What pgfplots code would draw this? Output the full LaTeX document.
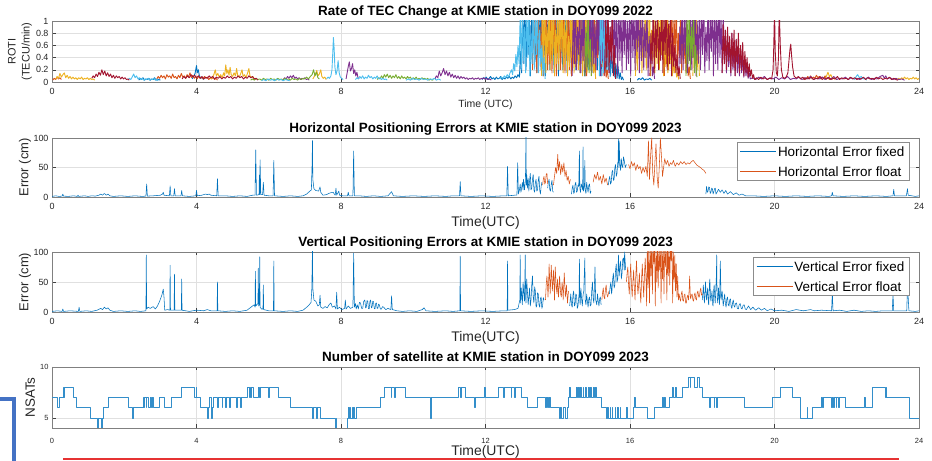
\documentclass[border=0pt]{standalone}
\usepackage{fontspec}
\setmainfont{Liberation Sans}
\usepackage{pgfplots}
\pgfplotsset{compat=1.18}
\definecolor{mblue}{rgb}{0,0.447,0.741}
\definecolor{morange}{rgb}{0.85,0.325,0.098}
\definecolor{myellow}{rgb}{0.929,0.694,0.125}
\definecolor{mpurple}{rgb}{0.494,0.184,0.556}
\definecolor{mgreen}{rgb}{0.466,0.674,0.188}
\definecolor{mcyan}{rgb}{0.301,0.745,0.933}
\definecolor{mred}{rgb}{0.635,0.078,0.184}
\definecolor{txt}{rgb}{0.15,0.15,0.15}
\definecolor{bracket}{RGB}{68,114,196}
\definecolor{redline}{RGB}{230,50,50}
\newcommand{\fs}[1]{\fontsize{#1}{#1}\selectfont}
\pgfplotsset{
  panel/.style={
    scale only axis, width=867bp,
    xmin=0, xmax=24, xtick={0,4,8,12,16,20,24},
    tick align=inside, tick pos=both,
    major tick length=3.5bp,
    grid=major,
    grid style={black!12, line width=0.4bp},
    axis line style={black!50, line width=0.5bp},
    tick style={black!75, line width=0.5bp},
    unbounded coords=jump,
    /pgf/number format/assume math mode=true,
    ticklabel style={text=txt},
    every axis title/.style={at={(0.5,1)}, anchor=base, yshift=5bp, font=\bfseries\fs{13.5}},
    xlabel style={at={(axis description cs:0.5,0)}, anchor=center, yshift=-26bp, font=\fs{14}, text=txt},
    ylabel style={at={(axis description cs:-0.031,0.5)}, anchor=center, font=\fs{13}, text=txt},
    xticklabel style={font=\fs{9}, yshift=-3bp},
    yticklabel style={font=\fs{9}},
    every axis plot/.append style={line width=0.55bp, line join=round},
    legend cell align=left,
    legend style={draw=black!45, fill=white, font=\fs{13.5}, text=black,
      inner sep=3bp, row sep=7bp, nodes={inner sep=1.5bp, text depth=0pt},
      anchor=north east},
    legend image code/.code={\draw[#1] (0bp,0bp) -- (36bp,0bp);},
  },
}
\begin{document}
\begin{tikzpicture}[x=1bp,y=1bp]
\path[use as bounding box] (0,0) rectangle (932,461);

%================ Panel 1: ROTI =================
\begin{axis}[panel, at={(52bp,379bp)}, anchor=south west, height=61bp,
  ymin=0, ymax=1, ytick={0,0.2,0.4,0.6,0.8,1}, yticklabels={0,0.2,0.4,0.6,0.8,1},
  title={Rate of TEC Change at KMIE station in DOY099 2022},
  xlabel={Time (UTC)}, xlabel style={font=\fs{10.5}, yshift=3bp},
  ylabel={ROTI\\(TECU/min)}, ylabel style={align=center, font=\fontsize{11}{14}\selectfont, at={(axis description cs:-0.037,0.5)}},
  every axis plot/.append style={line width=0.9bp}]
% blue
\addplot[mblue] table[row sep=\\]{
2.40 0.03\\ 2.44 0.06\\ 2.48 0.04\\ 2.52 0.07\\ 2.56 0.03\\ 2.60 0.05\\ 2.64 0.04\\ 2.68 0.06\\ 2.72 0.03\\ 2.76 0.05\\ 2.80 0.04\\ 2.84 0.07\\ 2.88 0.03\\ 2.92 0.05\\ 2.96 0.04\\ 3.00 0.03\\ 3.02 nan\\
3.88 0.05\\ 3.92 0.09\\ 3.96 0.14\\ 4.00 0.27\\ 4.02 0.15\\ 4.05 0.20\\ 4.08 0.10\\ 4.12 0.06\\ 4.16 0.08\\ 4.20 0.04\\ 4.22 nan\\
11.90 0.04\\ 11.94 0.07\\ 11.98 0.05\\ 12.02 0.08\\ 12.06 0.04\\ 12.10 0.06\\ 12.14 0.09\\ 12.18 0.05\\ 12.22 0.07\\ 12.26 0.04\\ 12.30 0.08\\ 12.34 0.05\\ 12.38 0.06\\ 12.42 0.09\\ 12.46 0.04\\ 12.50 0.07\\ 12.54 0.05\\ 12.58 0.08\\ 12.62 0.06\\ 12.66 0.09\\ 12.70 0.05\\ 12.74 0.08\\ 12.78 0.06\\ 12.82 0.10\\ 12.86 0.07\\ 12.90 0.12\\ 12.94 0.08\\
12.97 0.50\\ 13.00 0.15\\ 13.03 1.20\\ 13.06 0.30\\ 13.09 1.40\\ 13.12 0.20\\ 13.15 0.90\\ 13.18 0.45\\ 13.21 1.30\\ 13.24 0.10\\ 13.27 1.10\\ 13.30 0.35\\ 13.33 1.40\\ 13.36 0.25\\ 13.39 0.80\\ 13.42 0.15\\ 13.45 1.30\\ 13.48 0.40\\ 13.51 1.20\\ 13.54 0.20\\ 13.57 1.40\\ 13.60 0.30\\ 13.63 0.95\\ 13.66 0.10\\ 13.69 1.30\\ 13.72 0.50\\ 13.75 1.10\\ 13.78 0.20\\ 13.81 1.40\\ 13.84 0.35\\ 13.87 0.85\\ 13.90 0.15\\ 13.93 1.30\\ 13.96 0.45\\ 13.99 1.20\\ 14.02 0.10\\ 14.05 1.40\\ 14.08 0.30\\ 14.11 1.00\\ 14.14 0.20\\ 14.17 1.30\\ 14.20 0.40\\ 14.23 1.20\\ 14.26 0.15\\ 14.29 1.40\\ 14.32 0.35\\ 14.35 0.90\\ 14.38 0.10\\ 14.41 1.30\\ 14.44 0.45\\ 14.47 1.10\\ 14.50 0.20\\ 14.53 1.40\\ 14.56 0.30\\ 14.59 0.80\\ 14.62 0.15\\ 14.65 1.30\\ 14.68 0.40\\ 14.71 1.20\\ 14.74 0.10\\ 14.77 1.40\\ 14.80 0.35\\ 14.83 0.95\\ 14.86 0.20\\ 14.89 1.30\\ 14.92 0.50\\ 14.95 1.10\\ 14.98 0.15\\ 15.01 1.40\\ 15.04 0.30\\ 15.07 0.85\\ 15.10 0.20\\ 15.13 1.30\\ 15.16 0.40\\ 15.19 1.00\\ 15.22 0.10\\ 15.25 1.20\\ 15.28 0.30\\ 15.31 0.70\\ 15.34 0.15\\ 15.37 0.90\\ 15.40 0.20\\ 15.43 0.60\\ 15.46 0.10\\ 15.49 0.50\\ 15.52 0.15\\ 15.55 0.40\\ 15.58 0.08\\ 15.61 0.30\\ 15.64 0.06\\ 15.67 0.25\\ 15.70 0.05\\ 15.73 0.15\\ 15.76 0.04\\ 15.79 0.08\\ 15.82 0.03\\ 15.84 nan\\
16.20 0.03\\ 16.25 0.06\\ 16.30 0.04\\ 16.35 0.07\\ 16.40 0.03\\ 16.45 0.05\\ 16.50 0.04\\ 16.55 0.06\\ 16.60 0.03\\
};
% orange
\addplot[morange] table[row sep=\\]{
0.02 0.03\\ 0.06 0.06\\ 0.10 0.04\\ 0.14 0.08\\ 0.18 0.05\\ 0.22 0.07\\ 0.26 0.04\\ 0.28 nan\\
2.90 0.05\\ 2.94 0.09\\ 2.98 0.06\\ 3.02 0.11\\ 3.06 0.07\\ 3.10 0.10\\ 3.14 0.05\\ 3.18 0.12\\ 3.22 0.08\\ 3.26 0.10\\ 3.30 0.06\\ 3.34 0.13\\ 3.38 0.07\\ 3.42 0.09\\ 3.46 0.05\\ 3.50 0.11\\ 3.54 0.07\\ 3.58 0.14\\ 3.62 0.08\\ 3.66 0.10\\ 3.70 0.06\\ 3.74 0.12\\ 3.78 0.08\\ 3.82 0.15\\ 3.86 0.07\\ 3.90 0.11\\ 3.94 0.06\\ 3.98 0.09\\ 4.02 0.05\\ 4.06 0.10\\ 4.10 0.06\\ 4.14 0.08\\ 4.18 0.05\\ 4.22 0.09\\ 4.26 0.06\\ 4.30 0.08\\ 4.34 0.04\\ 4.38 0.07\\ 4.42 0.05\\ 4.46 0.08\\ 4.50 0.04\\ 4.54 0.06\\ 4.58 0.03\\ 4.60 nan\\
13.30 0.20\\ 13.33 1.30\\ 13.36 0.40\\ 13.39 1.10\\ 13.42 0.15\\ 13.45 1.40\\ 13.48 0.50\\ 13.51 0.90\\ 13.54 0.25\\ 13.57 1.30\\ 13.60 0.10\\ 13.63 1.20\\ 13.66 0.40\\ 13.69 1.40\\ 13.72 0.20\\ 13.75 0.80\\ 13.78 0.30\\ 13.81 1.30\\ 13.84 0.15\\ 13.87 1.20\\ 13.90 0.45\\ 13.93 1.40\\ 13.96 0.10\\ 13.99 0.95\\ 14.02 0.30\\ 14.05 1.30\\ 14.08 0.20\\ 14.11 1.10\\ 14.14 0.50\\ 14.17 1.40\\ 14.20 0.15\\ 14.23 0.85\\ 14.26 0.35\\ 14.29 1.30\\ 14.32 0.20\\ 14.35 1.20\\ 14.38 0.10\\ 14.41 1.40\\ 14.44 0.30\\ 14.47 1.00\\ 14.50 0.25\\ 14.53 1.30\\ 14.56 0.45\\ 14.59 1.10\\ 14.62 0.15\\ 14.65 1.40\\ 14.68 0.35\\ 14.71 0.80\\ 14.74 0.20\\ 14.77 1.30\\ 14.80 0.10\\ 14.83 1.20\\ 14.86 0.40\\ 14.89 1.40\\ 14.92 0.20\\ 14.95 0.90\\ 14.98 0.30\\ 15.01 1.30\\ 15.04 0.15\\ 15.07 1.10\\ 15.10 0.40\\ 15.13 0.95\\ 15.16 0.10\\ 15.19 0.70\\ 15.22 0.25\\ 15.25 0.60\\ 15.28 0.10\\ 15.31 0.40\\ 15.34 0.08\\ 15.37 0.20\\ 15.40 0.05\\ 15.42 nan\\
16.95 0.10\\ 16.98 1.20\\ 17.01 0.30\\ 17.04 1.40\\ 17.07 0.20\\ 17.10 0.95\\ 17.13 0.45\\ 17.16 1.30\\ 17.19 0.15\\ 17.22 1.10\\ 17.25 0.35\\ 17.28 1.40\\ 17.31 0.20\\ 17.34 0.80\\ 17.37 0.40\\ 17.40 1.20\\ 17.43 0.15\\ 17.46 0.90\\ 17.49 0.30\\ 17.52 0.70\\ 17.55 0.15\\ 17.58 0.45\\ 17.61 0.10\\ 17.64 0.25\\ 17.67 0.05\\ 17.70 nan\\
20.80 0.04\\ 20.84 0.07\\ 20.88 0.05\\ 20.92 0.09\\ 20.96 0.06\\ 21.00 0.10\\ 21.04 0.05\\ 21.08 0.08\\ 21.12 0.06\\ 21.16 0.11\\ 21.20 0.07\\ 21.24 0.09\\ 21.28 0.05\\ 21.32 0.08\\ 21.36 0.06\\ 21.40 0.10\\ 21.44 0.05\\ 21.48 0.07\\ 21.52 0.04\\ 21.56 0.06\\ 21.60 0.04\\
};
% yellow
\addplot[myellow] table[row sep=\\]{
0.10 0.04\\ 0.14 0.09\\ 0.18 0.06\\ 0.22 0.14\\ 0.26 0.08\\ 0.30 0.12\\ 0.34 0.15\\ 0.38 0.07\\ 0.42 0.11\\ 0.46 0.06\\ 0.50 0.09\\ 0.54 0.05\\ 0.58 0.08\\ 0.62 0.05\\ 0.66 0.07\\ 0.70 0.04\\ 0.74 0.07\\ 0.78 0.05\\ 0.82 0.08\\ 0.86 0.04\\ 0.90 0.06\\ 0.94 0.05\\ 0.98 0.07\\ 1.02 0.04\\ 1.06 0.06\\ 1.10 0.04\\ 1.14 0.05\\ 1.18 0.03\\ 1.20 nan\\
4.40 0.05\\ 4.44 0.08\\ 4.48 0.12\\ 4.52 0.20\\ 4.55 0.10\\ 4.59 0.14\\ 4.63 0.08\\ 4.67 0.12\\ 4.71 0.07\\ 4.75 0.15\\ 4.78 0.10\\ 4.81 0.28\\ 4.84 0.14\\ 4.87 0.20\\ 4.90 0.11\\ 4.93 0.24\\ 4.96 0.12\\ 5.00 0.09\\ 5.04 0.15\\ 5.08 0.10\\ 5.11 0.22\\ 5.14 0.11\\ 5.18 0.08\\ 5.22 0.13\\ 5.26 0.20\\ 5.29 0.09\\ 5.33 0.12\\ 5.37 0.07\\ 5.41 0.14\\ 5.45 0.22\\ 5.48 0.10\\ 5.52 0.07\\ 5.56 0.09\\ 5.60 0.05\\ 5.64 0.04\\ 5.66 nan\\
7.22 0.05\\ 7.26 0.09\\ 7.30 0.14\\ 7.33 0.19\\ 7.36 0.10\\ 7.40 0.13\\ 7.44 0.20\\ 7.47 0.09\\ 7.51 0.06\\ 7.55 0.08\\ 7.59 0.04\\ 7.61 nan\\
13.55 0.10\\ 13.58 1.20\\ 13.61 0.30\\ 13.64 1.40\\ 13.67 0.15\\ 13.70 0.90\\ 13.73 0.45\\ 13.76 1.30\\ 13.79 0.20\\ 13.82 1.10\\ 13.85 0.35\\ 13.88 1.40\\ 13.91 0.10\\ 13.94 0.85\\ 13.97 0.30\\ 14.00 1.30\\ 14.03 0.20\\ 14.06 1.20\\ 14.09 0.50\\ 14.12 1.40\\ 14.15 0.15\\ 14.18 1.00\\ 14.21 0.30\\ 14.24 1.30\\ 14.27 0.10\\ 14.30 0.75\\ 14.33 0.25\\ 14.36 1.20\\ 14.39 0.40\\ 14.42 1.40\\ 14.45 0.15\\ 14.48 0.90\\ 14.51 0.35\\ 14.54 1.30\\ 14.57 0.20\\ 14.60 1.10\\ 14.63 0.45\\ 14.66 1.40\\ 14.69 0.10\\ 14.72 0.80\\ 14.75 0.30\\ 14.78 1.20\\ 14.81 0.15\\ 14.84 0.95\\ 14.87 0.25\\ 14.90 0.70\\ 14.93 0.10\\ 14.96 0.50\\ 14.99 0.15\\ 15.02 0.30\\ 15.05 0.05\\ 15.07 nan\\
16.15 0.10\\ 16.18 0.70\\ 16.21 0.20\\ 16.24 1.10\\ 16.27 0.35\\ 16.30 1.40\\ 16.33 0.15\\ 16.36 0.90\\ 16.39 0.40\\ 16.42 1.30\\ 16.45 0.20\\ 16.48 1.20\\ 16.51 0.30\\ 16.54 1.40\\ 16.57 0.10\\ 16.60 0.85\\ 16.63 0.35\\ 16.66 1.30\\ 16.69 0.15\\ 16.72 0.95\\ 16.75 0.30\\ 16.78 1.40\\ 16.81 0.20\\ 16.84 1.10\\ 16.87 0.45\\ 16.90 1.30\\ 16.93 0.10\\ 16.96 0.80\\ 16.99 0.25\\ 17.02 1.20\\ 17.05 0.15\\ 17.08 0.90\\ 17.11 0.30\\ 17.14 0.65\\ 17.17 0.10\\ 17.20 0.45\\ 17.23 0.15\\ 17.26 0.30\\ 17.29 0.08\\ 17.32 0.15\\ 17.35 0.04\\ 17.37 nan\\
17.74 0.10\\ 17.77 0.90\\ 17.80 0.30\\ 17.83 1.20\\ 17.86 0.20\\ 17.89 0.70\\ 17.92 0.10\\ 17.94 nan\\
21.40 0.05\\ 21.44 0.10\\ 21.48 0.16\\ 21.52 0.09\\ 21.56 0.12\\ 21.60 0.06\\ 21.64 0.08\\ 21.68 0.04\\ 21.70 nan\\
23.40 0.04\\ 23.44 0.06\\ 23.48 0.04\\ 23.52 0.07\\ 23.56 0.05\\ 23.60 0.08\\ 23.64 0.05\\ 23.68 0.07\\ 23.72 0.04\\ 23.76 0.06\\ 23.80 0.05\\ 23.84 0.08\\ 23.88 0.05\\ 23.92 0.07\\ 23.96 0.04\\ 24.00 0.06\\
};
% purple
\addplot[mpurple] table[row sep=\\]{
6.40 0.04\\ 6.44 0.07\\ 6.48 0.05\\ 6.52 0.09\\ 6.56 0.06\\ 6.60 0.10\\ 6.64 0.07\\ 6.68 0.11\\ 6.72 0.06\\ 6.76 0.08\\ 6.80 0.05\\ 6.84 0.07\\ 6.88 0.04\\ 6.92 0.06\\ 6.96 0.05\\ 7.00 0.07\\ 7.04 0.04\\ 7.08 0.05\\ 7.12 0.03\\ 7.14 nan\\
8.14 0.05\\ 8.17 0.15\\ 8.20 0.25\\ 8.23 0.33\\ 8.26 0.18\\ 8.29 0.22\\ 8.32 0.30\\ 8.35 0.14\\ 8.38 0.20\\ 8.41 0.10\\ 8.44 0.16\\ 8.47 0.07\\ 8.50 0.05\\ 8.52 nan\\
10.60 0.05\\ 10.64 0.10\\ 10.68 0.07\\ 10.72 0.18\\ 10.76 0.10\\ 10.80 0.15\\ 10.84 0.22\\ 10.88 0.12\\ 10.92 0.18\\ 10.96 0.10\\ 11.00 0.16\\ 11.04 0.08\\ 11.08 0.13\\ 11.12 0.07\\ 11.16 0.11\\ 11.20 0.06\\ 11.24 0.10\\ 11.28 0.05\\ 11.32 0.09\\ 11.36 0.06\\ 11.40 0.08\\ 11.44 0.05\\ 11.48 0.07\\ 11.52 0.04\\ 11.56 0.06\\ 11.60 0.05\\ 11.64 0.07\\ 11.68 0.04\\ 11.72 0.06\\ 11.76 0.05\\ 11.80 0.07\\ 11.84 0.04\\ 11.88 0.06\\ 11.92 0.05\\ 11.96 0.07\\ 12.00 0.04\\ 12.04 0.06\\ 12.08 0.04\\ 12.12 0.05\\ 12.16 0.03\\ 12.18 nan\\
14.40 0.10\\ 14.43 1.20\\ 14.46 0.30\\ 14.49 1.40\\ 14.52 0.20\\ 14.55 0.90\\ 14.58 0.45\\ 14.61 1.30\\ 14.64 0.15\\ 14.67 1.10\\ 14.70 0.35\\ 14.73 1.40\\ 14.76 0.10\\ 14.79 0.80\\ 14.82 0.25\\ 14.85 1.30\\ 14.88 0.50\\ 14.91 1.20\\ 14.94 0.15\\ 14.97 1.40\\ 15.00 0.30\\ 15.03 0.95\\ 15.06 0.20\\ 15.09 1.30\\ 15.12 0.45\\ 15.15 1.40\\ 15.18 0.10\\ 15.21 1.10\\ 15.24 0.35\\ 15.27 1.30\\ 15.30 0.20\\ 15.33 1.40\\ 15.36 0.50\\ 15.39 1.20\\ 15.42 0.15\\ 15.45 0.90\\ 15.48 0.30\\ 15.51 1.40\\ 15.54 0.20\\ 15.57 1.30\\ 15.60 0.40\\ 15.63 1.10\\ 15.66 0.10\\ 15.69 1.40\\ 15.72 0.35\\ 15.75 1.20\\ 15.78 0.15\\ 15.81 1.30\\ 15.84 0.45\\ 15.87 1.40\\ 15.90 0.20\\ 15.93 1.00\\ 15.96 0.30\\ 15.99 1.30\\ 16.02 0.10\\ 16.05 1.40\\ 16.08 0.40\\ 16.11 1.20\\ 16.14 0.20\\ 16.17 1.30\\ 16.20 0.50\\ 16.23 1.40\\ 16.26 0.15\\ 16.29 1.10\\ 16.32 0.35\\ 16.35 1.30\\ 16.38 0.20\\ 16.41 0.95\\ 16.44 0.40\\ 16.47 1.20\\ 16.50 0.10\\ 16.53 0.75\\ 16.56 0.30\\ 16.59 0.55\\ 16.62 0.10\\ 16.65 0.25\\ 16.68 0.05\\ 16.70 nan\\
17.35 0.10\\ 17.38 0.90\\ 17.41 0.30\\ 17.44 1.30\\ 17.47 0.20\\ 17.50 1.10\\ 17.53 0.45\\ 17.56 1.40\\ 17.59 0.15\\ 17.62 0.85\\ 17.65 0.35\\ 17.68 1.30\\ 17.71 0.20\\ 17.74 1.20\\ 17.77 0.40\\ 17.80 1.40\\ 17.83 0.10\\ 17.86 1.00\\ 17.89 0.30\\ 17.92 1.30\\ 17.95 0.20\\ 17.98 1.20\\ 18.01 0.45\\ 18.04 1.40\\ 18.07 0.15\\ 18.10 0.90\\ 18.13 0.35\\ 18.16 1.30\\ 18.19 0.20\\ 18.22 1.10\\ 18.25 0.50\\ 18.28 1.40\\ 18.31 0.10\\ 18.34 1.20\\ 18.37 0.30\\ 18.40 1.30\\ 18.43 0.20\\ 18.46 1.40\\ 18.49 0.40\\ 18.52 1.10\\ 18.55 0.15\\ 18.58 1.20\\ 18.61 0.30\\ 18.64 0.85\\ 18.67 0.15\\ 18.70 0.75\\ 18.73 0.25\\ 18.76 0.65\\ 18.79 0.10\\ 18.82 0.80\\ 18.85 0.20\\ 18.88 0.60\\ 18.91 0.10\\ 18.94 0.70\\ 18.97 0.15\\ 19.00 0.50\\ 19.03 0.10\\ 19.06 0.55\\ 19.09 0.15\\ 19.12 0.40\\ 19.15 0.08\\ 19.18 0.35\\ 19.21 0.10\\ 19.24 0.25\\ 19.27 0.06\\ 19.30 0.15\\ 19.33 0.05\\
19.40 0.07\\ 19.48 0.04\\ 19.56 0.08\\ 19.64 0.05\\ 19.72 0.09\\ 19.80 0.04\\ 19.88 0.07\\ 19.96 0.05\\ 20.04 0.08\\ 20.12 0.04\\ 20.20 0.07\\ 20.28 0.05\\ 20.36 0.09\\ 20.44 0.04\\ 20.52 0.06\\ 20.60 0.05\\ 20.68 0.08\\ 20.76 0.04\\ 20.84 0.07\\ 20.92 0.05\\ 21.00 0.09\\ 21.08 0.04\\ 21.16 0.06\\ 21.24 0.05\\ 21.32 0.08\\ 21.40 0.04\\ 21.48 0.07\\ 21.56 0.05\\ 21.64 0.09\\ 21.72 0.04\\ 21.80 0.06\\ 21.88 0.05\\ 21.96 0.08\\ 22.04 0.04\\ 22.12 0.07\\ 22.20 0.05\\ 22.28 0.06\\ 22.36 0.04\\ 22.44 0.07\\ 22.52 0.05\\ 22.60 0.08\\ 22.68 0.04\\ 22.76 0.06\\ 22.84 0.05\\ 22.92 0.09\\ 23.00 0.11\\ 23.04 0.06\\ 23.08 0.10\\ 23.12 0.05\\ 23.20 0.07\\ 23.28 0.04\\ 23.36 0.06\\ 23.44 0.04\\ 23.52 0.05\\ 23.60 0.03\\
};
% green
\addplot[mgreen] table[row sep=\\]{
5.50 0.03\\ 5.55 0.05\\ 5.60 0.03\\ 5.65 0.06\\ 5.70 0.04\\ 5.75 0.05\\ 5.80 0.03\\ 5.85 0.06\\ 5.90 0.04\\ 5.95 0.05\\ 6.00 0.03\\ 6.05 0.06\\ 6.10 0.04\\ 6.15 0.05\\ 6.20 0.03\\ 6.25 0.06\\ 6.30 0.04\\ 6.35 0.05\\ 6.40 0.03\\ 6.45 0.06\\ 6.50 0.04\\ 6.55 0.05\\ 6.60 0.03\\ 6.65 0.06\\ 6.70 0.04\\ 6.75 0.05\\ 6.80 0.03\\ 6.85 0.06\\ 6.90 0.04\\ 6.95 0.06\\ 7.00 0.05\\ 7.05 0.08\\ 7.10 0.05\\ 7.15 0.09\\ 7.20 0.12\\ 7.24 0.20\\ 7.28 0.10\\ 7.32 0.16\\ 7.36 0.07\\ 7.40 0.05\\ 7.42 nan\\
9.00 0.04\\ 9.04 0.07\\ 9.08 0.05\\ 9.12 0.10\\ 9.16 0.06\\ 9.20 0.12\\ 9.24 0.08\\ 9.28 0.13\\ 9.32 0.07\\ 9.36 0.11\\ 9.40 0.06\\ 9.44 0.10\\ 9.48 0.07\\ 9.52 0.12\\ 9.56 0.06\\ 9.60 0.09\\ 9.64 0.05\\ 9.68 0.10\\ 9.72 0.06\\ 9.76 0.08\\ 9.80 0.05\\ 9.84 0.09\\ 9.88 0.06\\ 9.92 0.08\\ 9.96 0.04\\ 10.00 0.07\\ 10.04 0.05\\ 10.08 0.08\\ 10.12 0.04\\ 10.16 0.06\\ 10.20 0.04\\ 10.24 0.07\\ 10.28 0.05\\ 10.32 0.06\\ 10.36 0.04\\ 10.40 0.06\\ 10.44 0.03\\ 10.48 0.05\\ 10.52 0.03\\ 10.56 0.04\\ 10.58 nan\\
14.75 0.10\\ 14.78 0.90\\ 14.81 0.20\\ 14.84 1.20\\ 14.87 0.15\\ 14.90 0.70\\ 14.93 0.10\\ 14.95 nan\\
17.55 0.10\\ 17.58 1.10\\ 17.61 0.30\\ 17.64 1.30\\ 17.67 0.20\\ 17.70 0.90\\ 17.73 0.40\\ 17.76 1.20\\ 17.79 0.15\\ 17.82 0.60\\ 17.85 0.08\\
};
% light blue
\addplot[mcyan] table[row sep=\\]{
2.10 0.03\\ 2.14 0.06\\ 2.18 0.04\\ 2.22 0.08\\ 2.26 0.13\\ 2.30 0.07\\ 2.34 0.10\\ 2.38 0.05\\ 2.42 0.07\\ 2.46 0.04\\ 2.50 0.06\\ 2.54 0.03\\ 2.58 0.05\\ 2.62 0.04\\ 2.66 0.06\\ 2.70 0.03\\ 2.74 0.05\\ 2.78 0.04\\ 2.82 0.06\\ 2.86 0.03\\ 2.90 0.04\\ 2.94 0.02\\ 2.96 nan\\
5.80 0.02\\ 5.86 0.04\\ 5.92 0.02\\ 5.98 0.05\\ 6.04 0.03\\ 6.10 0.04\\ 6.16 0.02\\ 6.22 0.05\\ 6.28 0.03\\ 6.34 0.04\\ 6.40 0.02\\ 6.46 0.04\\ 6.52 0.03\\ 6.58 0.02\\ 6.60 nan\\
7.60 0.05\\ 7.64 0.08\\ 7.68 0.06\\ 7.72 0.10\\ 7.75 0.20\\ 7.77 0.45\\ 7.79 0.73\\ 7.81 0.55\\ 7.83 0.25\\ 7.86 0.12\\ 7.89 0.18\\ 7.92 0.35\\ 7.95 0.15\\ 7.98 0.08\\ 8.02 0.06\\ 8.06 0.04\\ 8.08 nan\\
8.40 0.04\\ 8.44 0.07\\ 8.48 0.05\\ 8.52 0.09\\ 8.56 0.06\\ 8.60 0.10\\ 8.64 0.05\\ 8.68 0.08\\ 8.72 0.06\\ 8.76 0.11\\ 8.80 0.07\\ 8.84 0.09\\ 8.88 0.05\\ 8.92 0.08\\ 8.96 0.06\\ 9.00 0.10\\ 9.04 0.05\\ 9.08 0.07\\ 9.12 0.04\\ 9.16 0.06\\ 9.20 0.04\\ 9.24 0.05\\ 9.28 0.03\\ 9.30 nan\\
9.80 0.03\\ 9.86 0.05\\ 9.92 0.03\\ 9.98 0.06\\ 10.04 0.04\\ 10.10 0.05\\ 10.16 0.03\\ 10.22 0.06\\ 10.28 0.04\\ 10.34 0.05\\ 10.40 0.03\\ 10.46 0.05\\ 10.52 0.04\\ 10.58 0.06\\ 10.64 0.03\\ 10.70 0.05\\ 10.76 0.03\\ 10.78 nan\\
12.40 0.05\\ 12.44 0.08\\ 12.48 0.06\\ 12.52 0.10\\ 12.56 0.07\\ 12.60 0.12\\ 12.64 0.08\\ 12.68 0.15\\ 12.72 0.20\\ 12.75 0.12\\ 12.78 0.30\\ 12.81 0.18\\ 12.84 0.45\\ 12.87 0.25\\ 12.90 0.60\\ 12.93 0.30\\ 12.96 1.10\\ 12.99 0.20\\ 13.02 1.30\\ 13.05 0.35\\ 13.08 0.90\\ 13.11 0.15\\ 13.14 1.40\\ 13.17 0.40\\ 13.20 1.20\\ 13.23 0.10\\ 13.26 0.80\\ 13.29 0.30\\ 13.32 1.30\\ 13.35 0.20\\ 13.38 1.10\\ 13.41 0.45\\ 13.44 1.40\\ 13.47 0.15\\ 13.50 0.85\\ 13.53 0.30\\ 13.56 0.60\\ 13.59 0.10\\ 13.62 0.40\\ 13.65 0.05\\ 13.67 nan\\
15.15 0.10\\ 15.18 1.20\\ 15.21 0.30\\ 15.24 1.40\\ 15.27 0.15\\ 15.30 0.90\\ 15.33 0.35\\ 15.36 1.10\\ 15.39 0.20\\ 15.42 0.60\\ 15.45 0.08\\ 15.47 nan\\
22.20 0.04\\ 22.25 0.08\\ 22.30 0.12\\ 22.35 0.07\\ 22.40 0.09\\ 22.45 0.05\\ 22.50 0.06\\ 22.55 0.03\\
};
% dark red
\addplot[mred] table[row sep=\\]{
1.10 0.06\\ 1.14 0.10\\ 1.18 0.07\\ 1.22 0.13\\ 1.26 0.09\\ 1.30 0.16\\ 1.34 0.11\\ 1.38 0.20\\ 1.42 0.12\\ 1.46 0.18\\ 1.50 0.10\\ 1.54 0.15\\ 1.58 0.09\\ 1.62 0.13\\ 1.66 0.07\\ 1.70 0.11\\ 1.74 0.06\\ 1.78 0.10\\ 1.82 0.07\\ 1.86 0.09\\ 1.90 0.05\\ 1.94 0.08\\ 1.98 0.05\\ 2.02 0.07\\ 2.06 0.04\\ 2.10 0.05\\ 2.14 0.03\\ 2.16 nan\\
3.60 0.05\\ 3.65 0.09\\ 3.70 0.06\\ 3.75 0.10\\ 3.80 0.07\\ 3.85 0.12\\ 3.90 0.08\\ 3.95 0.11\\ 4.00 0.07\\ 4.05 0.10\\ 4.10 0.06\\ 4.15 0.09\\ 4.20 0.05\\ 4.25 0.08\\ 4.30 0.06\\ 4.35 0.10\\ 4.40 0.07\\ 4.45 0.09\\ 4.50 0.05\\ 4.55 0.08\\ 4.60 0.06\\ 4.65 0.09\\ 4.70 0.05\\ 4.75 0.08\\ 4.80 0.06\\ 4.85 0.10\\ 4.90 0.07\\ 4.95 0.09\\ 5.00 0.05\\ 5.05 0.08\\ 5.10 0.06\\ 5.15 0.10\\ 5.20 0.07\\ 5.25 0.09\\ 5.30 0.05\\ 5.35 0.08\\ 5.40 0.06\\ 5.45 0.10\\ 5.50 0.07\\ 5.55 0.09\\ 5.60 0.05\\ 5.65 0.06\\ 5.70 0.03\\ 5.72 nan\\
15.30 0.10\\ 15.33 1.10\\ 15.36 0.25\\ 15.39 1.30\\ 15.42 0.15\\ 15.45 0.90\\ 15.48 0.35\\ 15.51 1.20\\ 15.54 0.10\\ 15.57 0.60\\ 15.60 0.05\\ 15.62 nan\\
16.55 0.10\\ 16.58 0.80\\ 16.61 0.30\\ 16.64 1.20\\ 16.67 0.15\\ 16.70 1.00\\ 16.73 0.40\\ 16.76 1.30\\ 16.79 0.20\\ 16.82 0.90\\ 16.85 0.35\\ 16.88 1.40\\ 16.91 0.15\\ 16.94 1.10\\ 16.97 0.45\\ 17.00 1.30\\ 17.03 0.20\\ 17.06 0.95\\ 17.09 0.30\\ 17.12 1.20\\ 17.15 0.10\\ 17.18 0.80\\ 17.21 0.25\\ 17.24 0.60\\ 17.27 0.15\\ 17.30 0.45\\ 17.33 0.10\\ 17.36 0.25\\ 17.39 0.05\\ 17.41 nan\\
18.55 0.15\\ 18.58 0.95\\ 18.61 0.30\\ 18.64 0.85\\ 18.67 0.20\\ 18.70 0.90\\ 18.73 0.35\\ 18.76 0.75\\ 18.79 0.15\\ 18.82 0.80\\ 18.85 0.25\\ 18.88 0.85\\ 18.91 0.10\\ 18.94 0.70\\ 18.97 0.30\\ 19.00 0.80\\ 19.03 0.15\\ 19.06 0.60\\ 19.09 0.20\\ 19.12 0.65\\ 19.15 0.10\\ 19.18 0.50\\ 19.21 0.15\\ 19.24 0.40\\ 19.27 0.08\\ 19.30 0.30\\ 19.33 0.10\\ 19.36 0.20\\ 19.39 0.06\\ 19.42 0.12\\ 19.45 0.04\\
19.50 0.07\\ 19.56 0.04\\ 19.62 0.08\\ 19.68 0.05\\ 19.74 0.07\\ 19.80 0.04\\ 19.86 0.06\\ 19.92 0.05\\ 19.96 0.20\\ 19.98 0.60\\ 20.00 1.20\\ 20.02 0.50\\ 20.05 0.15\\ 20.08 0.10\\ 20.11 0.40\\ 20.13 1.20\\ 20.16 0.60\\ 20.19 0.20\\ 20.23 0.08\\ 20.28 0.06\\ 20.33 0.09\\ 20.37 0.15\\ 20.40 0.35\\ 20.43 0.55\\ 20.45 0.62\\ 20.47 0.45\\ 20.50 0.25\\ 20.54 0.10\\ 20.60 0.06\\ 20.66 0.09\\ 20.72 0.05\\ 20.78 0.08\\ 20.84 0.04\\ 20.90 0.07\\ 20.96 0.05\\ 21.02 0.08\\ 21.08 0.04\\ 21.14 0.06\\ 21.20 0.05\\ 21.26 0.09\\ 21.32 0.04\\ 21.38 0.07\\ 21.44 0.05\\ 21.50 0.08\\ 21.56 0.04\\ 21.62 0.06\\ 21.68 0.05\\ 21.74 0.09\\ 21.80 0.04\\ 21.86 0.07\\ 21.92 0.05\\ 21.98 0.06\\ 22.04 0.04\\ 22.10 0.08\\ 22.16 0.05\\ 22.22 0.07\\ 22.28 0.04\\ 22.34 0.06\\ 22.40 0.05\\ 22.46 0.08\\ 22.52 0.04\\ 22.58 0.07\\ 22.64 0.05\\ 22.70 0.06\\ 22.76 0.04\\ 22.82 0.08\\ 22.88 0.05\\ 22.94 0.07\\ 23.00 0.04\\ 23.06 0.06\\ 23.12 0.05\\ 23.18 0.08\\ 23.24 0.04\\ 23.30 0.06\\ 23.36 0.04\\ 23.42 0.03\\
};
\end{axis}

%================ Panel 2: Horizontal =================
\begin{axis}[panel, at={(52bp,264bp)}, anchor=south west, height=59bp,
  ymin=0, ymax=100, ytick={0,50,100},
  title={Horizontal Positioning Errors at KMIE station in DOY099 2023},
  xlabel={Time(UTC)}, ylabel={Error (cm)},
  legend style={at={(axis description cs:0.9885,0.932)}}]
\addplot[mblue] table[row sep=\\]{
0.00 1\\ 0.10 2\\ 0.20 1\\ 0.28 1.5\\ 0.30 5\\ 0.32 1.5\\ 0.45 1\\ 0.60 2\\ 0.70 1\\ 0.72 3\\ 0.74 1\\ 0.90 2\\ 1.00 1\\ 1.10 2\\
1.20 1.5\\ 1.30 3\\ 1.35 5\\ 1.40 3\\ 1.45 6\\ 1.50 3\\ 1.55 5\\ 1.60 2\\ 1.70 1\\ 1.90 2\\ 2.10 1\\ 2.30 2\\ 2.50 1\\ 2.60 1.5\\
2.62 22\\ 2.64 1.5\\ 2.80 2\\ 3.00 3\\ 3.06 5\\ 3.08 8\\ 3.10 3\\ 3.25 2\\ 3.27 19\\ 3.29 2\\ 3.37 2\\ 3.39 14\\ 3.41 2\\ 3.57 2\\
3.59 11\\ 3.61 2\\ 3.80 1\\ 3.98 2\\ 4.00 11\\ 4.02 2\\ 4.15 3\\ 4.25 5\\ 4.30 4\\ 4.35 5\\ 4.40 3\\ 4.56 2\\ 4.58 31\\ 4.60 2\\
4.80 2\\ 5.00 1\\ 5.20 2\\ 5.40 1\\ 5.55 3\\ 5.62 3\\ 5.64 80\\ 5.66 3\\ 5.73 4\\ 5.74 37\\ 5.75 4\\ 5.76 63\\ 5.78 4\\ 5.83 4\\
5.85 25\\ 5.87 3\\ 6.00 2\\ 6.12 2\\ 6.14 62\\ 6.16 2\\ 6.40 1\\ 6.60 2\\ 6.80 1\\ 6.95 2\\ 7.05 5\\ 7.12 9\\ 7.18 12\\ 7.20 57\\
7.21 96\\ 7.22 30\\ 7.25 14\\ 7.30 11\\ 7.38 10\\ 7.42 17\\ 7.44 8\\ 7.50 3\\ 7.60 4\\ 7.70 7\\ 7.78 8\\ 7.84 3\\ 7.86 15\\ 7.88 3\\
7.94 10\\ 7.96 3\\ 8.05 2\\ 8.18 2\\ 8.20 8\\ 8.22 2\\ 8.33 2\\ 8.35 78\\ 8.37 2\\ 8.50 2\\ 8.70 1\\ 8.90 2\\ 9.10 1\\ 9.30 2\\
9.40 9\\ 9.45 2\\ 9.70 1\\ 10.00 2\\ 10.30 1\\ 10.60 2\\ 10.90 1\\ 11.10 2\\ 11.28 2\\ 11.30 26\\ 11.32 2\\ 11.60 1\\ 11.90 2\\
12.20 1\\ 12.50 2\\ 12.59 2\\ 12.61 52\\ 12.63 2\\ 12.80 3\\ 12.87 3\\ 12.89 58\\ 12.91 5\\ 12.94 12\\ 12.96 22\\ 12.98 8\\ 13.00 15\\ 13.02 25\\ 13.04 12\\ 13.05 30\\ 13.08 12\\
13.10 25\\ 13.11 45\\ 13.12 110\\ 13.13 20\\ 13.14 38\\ 13.16 15\\ 13.18 32\\ 13.20 10\\ 13.22 28\\ 13.24 40\\ 13.26 12\\ 13.28 15\\ 13.30 30\\ 13.32 38\\ 13.34 12\\ 13.36 8\\ 13.38 25\\ 13.40 30\\ 13.42 10\\ 13.44 12\\ 13.46 28\\ 13.48 35\\ 13.50 12\\
13.52 5\\ 13.54 18\\ 13.56 25\\ 13.58 nan\\
13.72 15\\ 13.74 25\\ 13.76 30\\ 13.78 12\\ 13.80 10\\ 13.82 22\\ 13.84 28\\ 13.86 10\\ 13.88 8\\ 13.90 nan\\
14.38 5\\ 14.40 15\\ 14.42 20\\ 14.44 6\\ 14.46 8\\ 14.48 22\\ 14.50 25\\ 14.52 8\\ 14.54 10\\ 14.56 20\\ 14.58 18\\ 14.60 78\\ 14.61 15\\ 14.63 8\\ 14.65 22\\ 14.67 18\\ 14.69 12\\ 14.70 85\\ 14.71 10\\
14.74 20\\ 14.75 62\\ 14.76 12\\ 14.78 6\\ 14.80 25\\ 14.82 15\\ 14.84 8\\ 14.86 20\\ 14.88 22\\ 14.90 6\\ 14.92 10\\ 14.96 nan\\
15.40 20\\ 15.42 30\\ 15.44 35\\ 15.46 22\\ 15.48 25\\ 15.50 42\\ 15.52 45\\ 15.54 28\\ 15.56 30\\ 15.58 50\\ 15.60 55\\ 15.62 35\\ 15.64 40\\ 15.66 58\\ 15.67 60\\ 15.68 98\\ 15.69 50\\ 15.70 95\\ 15.72 55\\ 15.74 45\\
15.76 65\\ 15.78 52\\ 15.80 50\\ 15.82 68\\ 15.84 62\\ 15.87 50\\ 15.90 55\\ 15.96 nan\\
18.10 5\\ 18.12 18\\ 18.14 8\\ 18.16 10\\ 18.18 17\\ 18.20 16\\ 18.22 6\\ 18.24 8\\ 18.26 15\\ 18.28 14\\ 18.30 5\\ 18.32 9\\ 18.34 14\\ 18.36 15\\ 18.38 5\\ 18.40 7\\ 18.45 13\\ 18.50 8\\ 18.55 12\\
18.60 6\\ 18.65 11\\ 18.70 5\\ 18.78 9\\ 18.86 4\\ 18.94 7\\ 19.02 3\\ 19.10 5\\ 19.20 2\\ 19.40 2\\ 19.70 1\\ 20.00 2\\ 20.30 1\\
20.60 2\\ 20.90 1\\ 21.20 2\\ 21.50 1\\ 21.58 2\\ 21.60 8\\ 21.62 2\\ 21.90 1\\ 22.20 2\\ 22.50 1\\ 22.80 2\\ 23.10 1\\ 23.28 2\\
23.30 13\\ 23.32 2\\ 23.65 2\\ 23.68 14\\ 23.70 3\\ 23.90 1\\ 24.00 2\\
};
\addlegendentry{Horizontal Error fixed}
\addplot[morange] table[row sep=\\]{
13.58 20\\ 13.60 30\\ 13.62 35\\ 13.64 22\\ 13.66 25\\ 13.68 38\\ 13.70 40\\ 13.72 22\\ 13.74 nan\\
13.88 20\\ 13.91 35\\ 13.94 50\\ 13.97 40\\ 14.00 72\\ 14.02 45\\ 14.05 60\\ 14.08 38\\ 14.11 55\\ 14.14 42\\ 14.17 58\\ 14.20 35\\
14.23 45\\ 14.26 28\\ 14.29 35\\ 14.32 22\\ 14.35 30\\ 14.38 nan\\
14.98 25\\ 15.02 38\\ 15.06 30\\ 15.10 42\\ 15.14 28\\ 15.18 35\\ 15.22 22\\ 15.26 38\\ 15.30 25\\ 15.34 32\\ 15.38 20\\ 15.40 nan\\
15.96 55\\ 16.00 48\\ 16.04 60\\ 16.08 52\\ 16.12 58\\ 16.16 45\\ 16.20 55\\ 16.24 48\\ 16.28 52\\ 16.32 40\\ 16.36 50\\ 16.40 42\\
16.44 52\\ 16.48 35\\ 16.51 95\\ 16.54 30\\ 16.57 70\\ 16.60 100\\ 16.63 40\\ 16.66 20\\ 16.69 60\\ 16.72 90\\ 16.75 35\\ 16.78 15\\
16.81 50\\ 16.84 100\\ 16.87 70\\ 16.90 35\\ 16.93 50\\ 16.96 65\\ 17.00 55\\ 17.04 62\\ 17.08 52\\ 17.12 58\\ 17.16 55\\ 17.20 62\\
17.25 52\\ 17.30 58\\ 17.35 54\\ 17.40 60\\ 17.45 56\\ 17.50 60\\ 17.55 55\\ 17.60 58\\ 17.65 56\\ 17.70 60\\ 17.75 62\\ 17.80 58\\
17.85 54\\ 17.90 52\\ 17.95 50\\ 18.00 47\\ 18.05 45\\ 18.10 40\\
};
\addlegendentry{Horizontal Error float}
\end{axis}

%================ Panel 3: Vertical =================
\begin{axis}[panel, at={(52bp,149bp)}, anchor=south west, height=60bp,
  ymin=0, ymax=100, ytick={0,50,100},
  title={Vertical Positioning Errors at KMIE station in DOY099 2023},
  xlabel={Time(UTC)}, ylabel={Error (cm)},
  legend style={at={(axis description cs:0.9885,0.917)}}]
\addplot[mblue] table[row sep=\\]{
0.00 1\\ 0.15 2\\ 0.28 1\\ 0.30 5\\ 0.32 1\\ 0.50 2\\ 0.73 1\\ 0.75 8\\ 0.77 1\\ 0.95 2\\ 1.10 1\\ 1.25 3\\ 1.35 6\\ 1.40 4\\
1.45 8\\ 1.50 5\\ 1.55 7\\ 1.60 3\\ 1.70 1\\ 1.90 2\\ 2.10 1\\ 2.30 2\\ 2.45 1\\ 2.60 2\\ 2.61 95\\ 2.62 5\\ 2.66 8\\ 2.72 6\\
2.80 9\\ 2.86 5\\ 2.92 10\\ 2.98 18\\ 3.04 28\\ 3.08 38\\ 3.10 25\\ 3.12 3\\ 3.20 4\\ 3.26 3\\ 3.27 78\\ 3.28 3\\ 3.38 3\\ 3.39 63\\
3.40 3\\ 3.58 3\\ 3.59 55\\ 3.60 3\\ 3.80 1\\ 4.00 3\\ 4.20 2\\ 4.30 4\\ 4.40 2\\ 4.57 2\\ 4.58 50\\ 4.59 2\\ 4.80 1\\ 5.00 2\\
5.20 1\\ 5.40 3\\ 5.55 10\\ 5.60 12\\ 5.62 8\\ 5.63 68\\ 5.64 10\\ 5.70 14\\ 5.71 73\\ 5.72 10\\ 5.74 12\\ 5.75 92\\ 5.76 8\\
5.80 5\\ 5.84 5\\ 5.85 45\\ 5.86 4\\ 6.00 2\\ 6.13 2\\ 6.14 85\\ 6.15 2\\ 6.40 1\\ 6.60 2\\ 6.80 1\\ 6.95 3\\ 7.05 8\\ 7.12 12\\
7.17 16\\ 7.19 35\\ 7.21 105\\ 7.22 40\\ 7.25 20\\ 7.30 18\\ 7.36 10\\ 7.40 12\\ 7.42 28\\ 7.44 8\\ 7.50 6\\ 7.56 9\\ 7.62 7\\
7.68 13\\ 7.72 15\\ 7.76 8\\ 7.82 10\\ 7.86 5\\ 7.88 33\\ 7.90 5\\ 7.96 8\\ 8.02 4\\ 8.10 6\\ 8.12 20\\ 8.14 5\\ 8.20 10\\ 8.26 6\\
8.33 8\\ 8.35 98\\ 8.37 8\\ 8.40 14\\ 8.42 5\\ 8.45 12\\ 8.48 5\\ 8.51 16\\ 8.54 15\\ 8.57 6\\ 8.60 6\\ 8.63 18\\ 8.66 20\\ 8.68 7\\ 8.70 8\\ 8.72 19\\ 8.74 18\\ 8.76 6\\ 8.78 5\\ 8.80 18\\ 8.82 20\\ 8.84 7\\ 8.86 8\\ 8.88 18\\ 8.90 17\\
8.92 6\\ 8.94 5\\ 8.96 14\\ 8.98 15\\ 9.00 6\\ 9.02 6\\ 9.04 13\\ 9.06 12\\ 9.09 5\\ 9.12 5\\ 9.15 9\\ 9.18 8\\ 9.24 4\\ 9.30 6\\ 9.38 4\\ 9.40 27\\ 9.42 4\\ 9.55 2\\ 9.70 1\\ 9.90 2\\
10.10 1\\ 10.25 4\\ 10.30 7\\ 10.35 2\\ 10.60 1\\ 10.90 2\\ 11.10 1\\ 11.29 2\\ 11.30 93\\ 11.31 2\\ 11.60 1\\ 11.90 2\\ 12.20 1\\
12.50 2\\ 12.60 2\\ 12.61 85\\ 12.62 3\\ 12.80 4\\ 12.90 6\\ 12.95 20\\ 12.96 95\\ 12.97 15\\ 12.99 40\\ 13.00 30\\ 13.02 12\\ 13.04 50\\ 13.06 30\\ 13.08 18\\
13.10 95\\ 13.11 25\\ 13.12 15\\ 13.14 55\\ 13.16 35\\ 13.18 12\\ 13.20 25\\ 13.22 40\\ 13.24 10\\ 13.26 20\\ 13.28 45\\ 13.30 60\\ 13.32 25\\ 13.34 15\\ 13.36 42\\ 13.38 35\\ 13.40 8\\ 13.42 10\\ 13.44 32\\ 13.46 30\\ 13.48 12\\ 13.50 8\\
13.52 22\\ 13.54 25\\ 13.56 6\\ 13.58 10\\ 13.60 24\\ 13.62 20\\ 13.66 nan\\
14.33 10\\ 14.36 30\\ 14.38 12\\ 14.40 8\\ 14.42 28\\ 14.44 35\\ 14.46 10\\ 14.48 12\\ 14.50 30\\ 14.52 28\\ 14.54 6\\ 14.56 10\\ 14.59 30\\ 14.60 88\\ 14.61 20\\ 14.62 12\\ 14.64 40\\ 14.66 22\\ 14.68 10\\
14.70 28\\ 14.72 35\\ 14.75 90\\ 14.76 20\\ 14.78 12\\ 14.80 30\\ 14.82 18\\ 14.84 8\\ 14.86 22\\ 14.88 25\\ 14.90 10\\ 14.92 12\\ 14.94 35\\ 14.96 50\\ 14.98 22\\ 15.00 15\\ 15.03 75\\ 15.05 20\\ 15.08 12\\ 15.10 30\\
15.12 18\\ 15.14 10\\ 15.16 22\\ 15.18 25\\ 15.20 12\\ 15.22 nan\\
15.43 30\\ 15.45 42\\ 15.47 50\\ 15.49 30\\ 15.50 35\\ 15.52 55\\ 15.54 65\\ 15.56 40\\ 15.58 45\\ 15.60 70\\ 15.62 80\\ 15.64 50\\ 15.66 55\\ 15.68 95\\ 15.70 60\\ 15.72 75\\ 15.74 85\\ 15.76 55\\ 15.78 65\\ 15.80 88\\ 15.82 90\\ 15.84 70\\
15.85 100\\ 15.88 70\\ 15.90 nan\\
18.00 20\\ 18.02 35\\ 18.03 45\\ 18.05 22\\ 18.06 15\\ 18.08 38\\ 18.09 50\\ 18.11 25\\ 18.12 20\\ 18.14 35\\ 18.15 40\\ 18.17 15\\ 18.18 12\\ 18.20 48\\ 18.21 55\\ 18.23 22\\ 18.24 18\\ 18.26 30\\ 18.27 35\\ 18.29 12\\ 18.30 10\\ 18.32 40\\ 18.33 45\\
18.35 20\\ 18.36 15\\ 18.39 60\\ 18.40 95\\ 18.41 25\\ 18.43 15\\ 18.45 40\\ 18.48 12\\ 18.50 85\\ 18.52 20\\ 18.54 30\\ 18.55 35\\ 18.58 10\\ 18.60 20\\ 18.62 30\\ 18.64 14\\ 18.66 8\\ 18.68 22\\
18.70 25\\ 18.72 12\\ 18.74 10\\ 18.76 20\\ 18.78 22\\ 18.80 9\\ 18.82 6\\ 18.84 16\\ 18.86 20\\ 18.88 10\\ 18.90 8\\ 18.92 14\\ 18.95 15\\ 18.97 6\\ 19.00 5\\ 19.02 12\\ 19.05 14\\ 19.08 6\\ 19.10 5\\ 19.13 11\\ 19.16 12\\ 19.19 5\\ 19.22 4\\
19.28 10\\ 19.34 4\\ 19.40 8\\ 19.48 3\\ 19.56 7\\ 19.64 3\\ 19.72 6\\ 19.80 2\\ 19.90 5\\ 20.00 2\\ 20.20 3\\ 20.40 1\\ 20.60 4\\
20.80 2\\ 21.00 4\\ 21.10 2\\ 21.30 3\\ 21.58 2\\ 21.60 33\\ 21.62 2\\ 21.80 3\\ 22.00 1\\ 22.20 3\\ 22.40 1\\ 22.60 2\\ 22.80 1\\
23.00 2\\ 23.26 2\\ 23.28 30\\ 23.30 2\\ 23.66 2\\ 23.68 40\\ 23.70 25\\ 23.72 2\\ 23.90 1\\ 24.00 2\\
};
\addlegendentry{Vertical Error fixed}
\addplot[morange] table[row sep=\\]{
13.66 20\\ 13.68 45\\ 13.70 60\\ 13.72 40\\ 13.73 25\\ 13.75 55\\ 13.76 80\\ 13.78 50\\ 13.79 30\\ 13.81 60\\ 13.82 78\\ 13.84 50\\ 13.85 35\\ 13.87 55\\ 13.88 70\\ 13.90 40\\ 13.91 20\\ 13.92 50\\ 13.93 75\\ 13.95 50\\ 13.96 40\\ 13.98 30\\ 13.99 55\\
14.01 40\\ 14.02 25\\ 14.04 45\\ 14.05 60\\ 14.07 40\\ 14.08 30\\ 14.10 25\\ 14.12 50\\ 14.14 35\\ 14.15 20\\ 14.17 50\\ 14.18 65\\ 14.20 40\\ 14.21 25\\ 14.23 35\\ 14.24 45\\ 14.26 25\\ 14.27 15\\ 14.29 30\\ 14.30 35\\ 14.33 nan\\
15.22 20\\ 15.24 32\\ 15.26 40\\ 15.28 25\\ 15.30 22\\ 15.32 38\\ 15.34 45\\ 15.36 30\\ 15.38 25\\ 15.40 30\\ 15.42 35\\ 15.45 nan\\
15.90 50\\ 15.92 65\\ 15.94 75\\ 15.96 45\\ 15.98 30\\ 16.00 60\\ 16.02 80\\ 16.04 45\\ 16.06 25\\ 16.08 50\\ 16.10 70\\ 16.12 40\\ 16.14 20\\ 16.16 60\\ 16.18 85\\ 16.20 50\\ 16.22 30\\ 16.24 45\\ 16.26 65\\ 16.28 35\\ 16.30 15\\ 16.32 55\\ 16.34 80\\
16.36 50\\ 16.38 25\\ 16.40 60\\ 16.42 90\\ 16.44 60\\ 16.46 10\\ 16.48 110\\ 16.50 40\\ 16.52 110\\ 16.54 15\\ 16.56 110\\ 16.58 60\\ 16.60 110\\ 16.62 30\\ 16.64 110\\ 16.66 80\\ 16.68 110\\ 16.70 10\\ 16.72 110\\ 16.74 50\\ 16.76 110\\
16.78 40\\ 16.80 110\\ 16.82 70\\ 16.84 110\\ 16.86 15\\ 16.88 110\\ 16.90 55\\ 16.92 110\\ 16.94 30\\ 16.96 110\\ 16.98 75\\ 17.00 110\\ 17.02 20\\ 17.04 110\\ 17.06 60\\ 17.08 110\\ 17.10 45\\ 17.12 110\\ 17.14 85\\ 17.16 110\\ 17.18 15\\
17.20 100\\ 17.22 50\\ 17.24 95\\ 17.26 35\\ 17.28 80\\ 17.30 25\\ 17.32 60\\ 17.34 20\\ 17.36 30\\ 17.38 22\\ 17.40 18\\ 17.42 30\\ 17.44 35\\ 17.46 20\\ 17.48 18\\ 17.50 28\\ 17.52 30\\ 17.54 15\\ 17.56 15\\ 17.58 25\\ 17.60 28\\ 17.62 20\\
17.64 40\\ 17.65 60\\ 17.67 25\\ 17.68 22\\ 17.70 28\\ 17.72 30\\ 17.74 20\\ 17.76 18\\ 17.78 28\\ 17.80 32\\ 17.82 22\\ 17.84 20\\ 17.86 32\\ 17.88 35\\ 17.90 25\\ 17.92 25\\ 17.94 35\\ 17.96 40\\ 17.98 28\\ 18.00 30\\
};
\addlegendentry{Vertical Error float}
\end{axis}

%================ Panel 4: NSATs =================
\begin{axis}[panel, at={(52bp,33bp)}, anchor=south west, height=61bp,
  ymin=4, ymax=10, ytick={5,10},
  title={Number of satellite at KMIE station in DOY099 2023},
  xlabel={Time(UTC)}, xlabel style={yshift=2bp}, ylabel={NSATs},
  ylabel style={font=\fs{13.5}, at={(axis description cs:-0.025,0.5)}},
  xticklabel style={font=\fs{7.5}, yshift=-4bp},
  yticklabel style={font=\fs{7.5}}]
\addplot[mblue!80, const plot] table[row sep=\\]{
0.00 7\\ 0.15 6\\ 0.19 7\\ 0.30 8\\ 0.32 7\\ 0.34 8\\ 0.58 7\\ 0.68 6\\ 1.05 5\\ 1.25 4\\ 1.28 5\\ 1.37 4\\ 1.40 5\\ 1.42 6\\
1.55 7\\ 2.10 6\\ 2.22 5\\ 2.24 6\\ 2.52 7\\ 2.54 6\\ 2.56 7\\ 2.60 6\\ 2.62 7\\ 2.66 6\\ 2.72 7\\ 2.74 6\\ 2.78 7\\ 2.80 6\\
2.98 7\\ 3.12 6\\ 3.30 7\\ 3.58 8\\ 3.95 7\\ 3.98 8\\ 4.00 7\\ 4.10 6\\ 4.30 5\\ 4.32 6\\ 4.36 7\\ 4.42 5\\ 4.44 6\\ 4.46 7\\
4.58 6\\ 4.60 7\\ 4.70 6\\ 4.72 7\\ 4.80 6\\ 4.82 7\\ 4.92 6\\ 4.94 7\\ 5.10 6\\ 5.12 7\\ 5.22 6\\ 5.24 7\\ 5.40 8\\ 5.45 7\\
5.47 8\\ 5.50 7\\ 5.52 8\\ 5.58 7\\ 5.72 8\\ 5.74 7\\ 5.76 8\\ 6.00 7\\ 6.02 8\\ 6.25 7\\ 6.60 6\\ 7.20 5\\ 7.22 6\\ 7.32 5\\
7.34 6\\ 7.42 5\\ 7.84 4\\ 7.86 5\\ 7.88 4\\ 8.16 5\\ 8.20 6\\ 8.22 5\\ 8.25 6\\ 8.27 5\\ 8.30 6\\ 8.32 5\\ 8.35 6\\ 8.38 5\\
8.42 6\\ 9.10 7\\ 9.20 8\\ 9.38 7\\ 9.40 8\\ 9.48 7\\ 9.50 8\\ 9.78 7\\ 10.46 6\\ 10.47 5\\ 10.49 6\\ 10.51 7\\ 11.24 8\\ 11.30 7\\
11.32 8\\ 11.44 7\\ 11.70 6\\ 11.72 7\\ 11.97 8\\ 11.99 7\\ 12.36 8\\ 12.50 7\\ 12.52 8\\ 12.70 7\\ 12.72 8\\ 12.80 7\\ 12.82 8\\
13.00 7\\ 13.15 6\\ 13.43 7\\ 13.66 6\\ 13.68 7\\ 13.70 6\\ 13.72 7\\ 13.74 6\\ 13.76 7\\ 13.80 6\\ 14.03 5\\ 14.08 6\\ 14.10 5\\
14.15 6\\ 14.20 5\\ 14.26 6\\ 14.28 7\\ 14.33 8\\ 14.36 7\\ 14.52 8\\ 14.54 7\\ 14.56 8\\ 14.60 7\\ 14.62 8\\ 14.66 7\\ 14.70 8\\
14.72 7\\ 14.76 8\\ 14.80 7\\ 14.84 8\\ 14.86 7\\ 14.90 8\\ 14.94 7\\ 14.98 8\\ 15.00 7\\ 15.03 8\\ 15.06 7\\ 15.20 6\\ 15.34 5\\
15.38 6\\ 15.40 5\\ 15.44 6\\ 15.46 5\\ 15.50 6\\ 15.52 5\\ 15.58 6\\ 15.60 5\\ 15.66 6\\ 15.68 5\\ 15.72 6\\ 15.74 5\\ 15.90 6\\
15.92 5\\ 16.10 6\\ 16.12 7\\ 16.14 6\\ 16.48 5\\ 16.68 6\\ 16.90 7\\ 16.92 6\\ 16.96 7\\ 16.98 6\\ 17.10 7\\ 17.18 8\\ 17.20 7\\
17.26 8\\ 17.28 7\\ 17.44 8\\ 17.62 9\\ 17.66 8\\ 17.68 9\\ 17.78 8\\ 17.86 9\\ 17.92 8\\ 18.00 7\\ 18.20 6\\ 18.22 7\\ 18.32 6\\
18.34 7\\ 18.40 6\\ 18.42 7\\ 19.15 6\\ 19.93 7\\ 20.15 8\\ 20.50 7\\ 20.70 5\\ 20.90 6\\ 20.92 5\\ 21.05 6\\ 21.30 7\\ 21.32 6\\
21.36 7\\ 21.58 6\\ 21.60 7\\ 21.64 6\\ 21.66 7\\ 21.70 6\\ 21.72 7\\ 21.76 6\\ 21.80 7\\ 21.95 6\\ 22.48 7\\ 22.52 6\\ 22.70 8\\
23.06 7\\ 23.08 8\\ 23.10 7\\ 23.73 5\\ 24.00 5\\
};
\end{axis}

% slide decorations
\draw[bracket, line width=4bp] (0,62) -- (14,62) -- (14,0);
\draw[redline, line width=2bp] (63,1.5) -- (899,1.5);
\end{tikzpicture}
\end{document}
